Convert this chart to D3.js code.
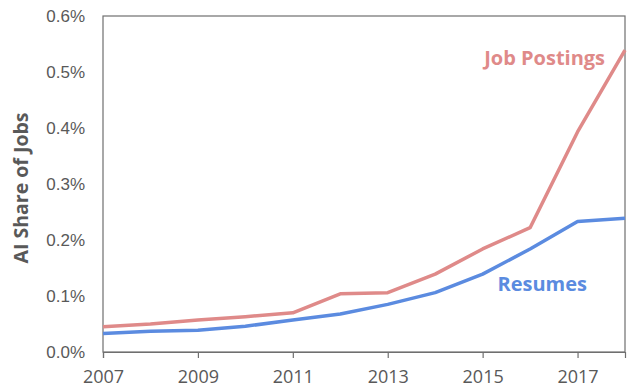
<!DOCTYPE html>
<html>
<head>
<meta charset="utf-8">
<script src="https://cdn.jsdelivr.net/npm/d3@7"></script>
<style>
  body { margin: 0; background: #fff; }
  svg { display: block; }
</style>
</head>
<body>
<script>
const years = [2007, 2008, 2009, 2010, 2011, 2012, 2013, 2014, 2015, 2016, 2017, 2018];
// AI share of jobs, in percent
const jobPostings = [0.045, 0.050, 0.057, 0.063, 0.070, 0.104, 0.106, 0.139, 0.184, 0.222, 0.393, 0.539];
const resumes = [0.033, 0.037, 0.039, 0.046, 0.057, 0.068, 0.085, 0.106, 0.139, 0.184, 0.233, 0.239];
const yTicks = [0, 0.1, 0.2, 0.3, 0.4, 0.5, 0.6];
const xTicks = [2007, 2009, 2011, 2013, 2015, 2017];

const width = 631, height = 390;
const margin = { left: 103, right: 6, top: 16, bottom: 38 };
const gray = '#595959';

const svg = d3.select('body').append('svg')
  .attr('width', width)
  .attr('height', height);

const x = d3.scaleLinear()
  .domain([2007, 2018])
  .range([margin.left, width - margin.right]);

const y = d3.scaleLinear()
  .domain([0, 0.6])
  .range([height - margin.bottom, margin.top]);

/* frame */
svg.append('rect')
  .attr('x', x(2007))
  .attr('y', y(0.6))
  .attr('width', x(2018) - x(2007))
  .attr('height', y(0) - y(0.6))
  .attr('fill', 'none')
  .attr('stroke', '#6f6f6f')
  .attr('stroke-width', 1.2);

/* x axis */
const xAxis = d3.axisBottom(x)
  .tickValues(xTicks)
  .tickFormat(d3.format('d'))
  .tickSize(6)
  .tickPadding(12);

svg.append('g')
  .attr('transform', `translate(0,${y(0)})`)
  .call(xAxis)
  .call(g => g.select('.domain').attr('stroke', '#6f6f6f').attr('stroke-width', 1.2))
  .call(g => g.selectAll('.tick line').attr('stroke', '#6f6f6f').attr('stroke-width', 1.2))
  .call(g => g.selectAll('.tick text')
    .attr('fill', gray)
    .style('font-family', '"Open Sans", sans-serif')
    .style('font-size', '18px'));

/* y axis */
const yAxis = d3.axisLeft(y)
  .tickValues(yTicks)
  .tickFormat(d => d3.format('.1f')(d) + '%')
  .tickSize(0)
  .tickPadding(18);

svg.append('g')
  .attr('transform', `translate(${x(2007)},0)`)
  .call(yAxis)
  .call(g => g.select('.domain').remove())
  .call(g => g.selectAll('.tick text')
    .attr('fill', gray)
    .style('font-family', '"Liberation Sans", Arial, sans-serif')
    .style('font-size', '17px'));

svg.append('text')
  .attr('transform', `translate(28,${(y(0) + y(0.6)) / 2 + 4}) rotate(-90)`)
  .attr('text-anchor', 'middle')
  .attr('fill', gray)
  .style('font-family', '"Open Sans", sans-serif')
  .style('font-weight', 'bold')
  .style('font-size', '19.5px')
  .text('AI Share of Jobs');

/* lines */
const line = d3.line()
  .x((d, i) => x(years[i]))
  .y(d => y(d));

const series = [
  { name: 'Job Postings', values: jobPostings, color: '#df8a89', labelX: 2017.58, labelY: 0.512 },
  { name: 'Resumes', values: resumes, color: '#5b8be0', labelX: 2017.2, labelY: 0.109 }
];

svg.selectAll('path.series')
  .data(series)
  .enter().append('path')
  .attr('class', 'series')
  .attr('d', d => line(d.values))
  .attr('fill', 'none')
  .attr('stroke', d => d.color)
  .attr('stroke-width', 3.5)
  .attr('stroke-linejoin', 'round');

svg.selectAll('text.label')
  .data(series)
  .enter().append('text')
  .attr('class', 'label')
  .attr('x', d => x(d.labelX))
  .attr('y', d => y(d.labelY))
  .attr('text-anchor', 'end')
  .attr('fill', d => d.color)
  .style('font-family', '"Open Sans", sans-serif')
  .style('font-weight', 'bold')
  .style('font-size', '20px')
  .text(d => d.name);
</script>
</body>
</html>
